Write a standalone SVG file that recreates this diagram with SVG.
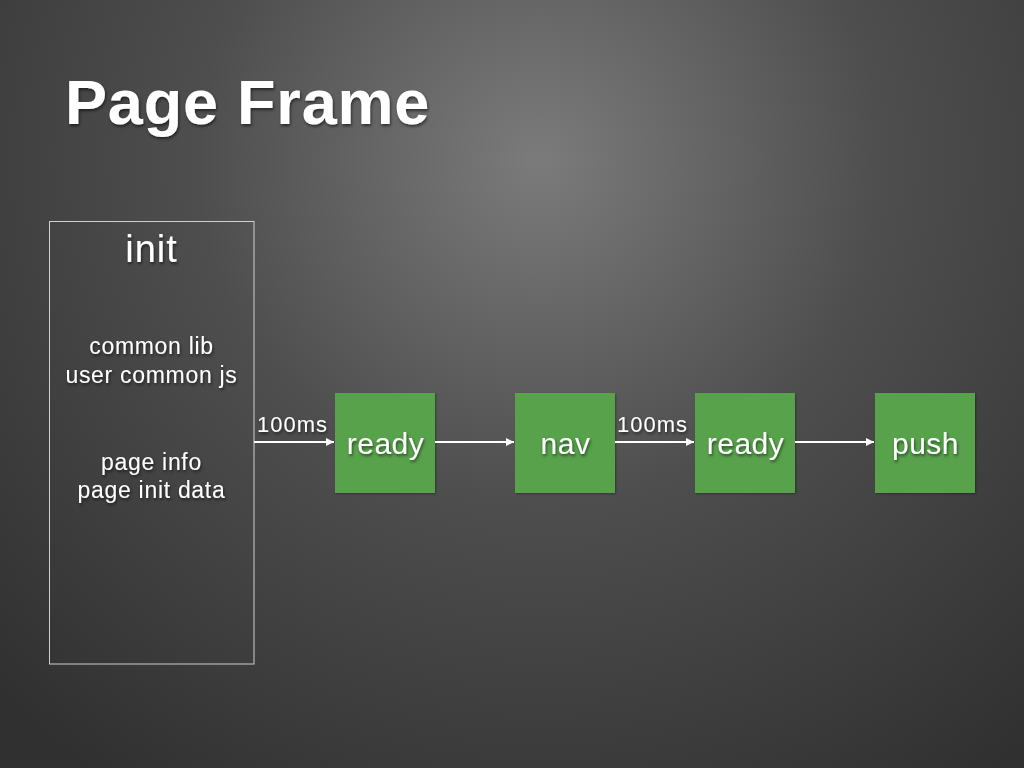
<svg xmlns="http://www.w3.org/2000/svg" width="1024" height="768" viewBox="0 0 1024 768">
  <defs>
    <radialGradient id="bg" cx="540" cy="160" r="760" gradientUnits="userSpaceOnUse">
      <stop offset="0" stop-color="#7b7b7b"/>
      <stop offset="0.45" stop-color="#4e4e4e"/>
      <stop offset="1" stop-color="#303030"/>
    </radialGradient>
    <filter id="shadow" x="-10%" y="-10%" width="120%" height="130%">
      <feDropShadow dx="1" dy="2" stdDeviation="1.5" flood-color="#000" flood-opacity="0.55"/>
    </filter>
    <filter id="boxShadow" x="-10%" y="-10%" width="125%" height="125%">
      <feDropShadow dx="1" dy="1" stdDeviation="1.2" flood-color="#000" flood-opacity="0.35"/>
    </filter>
    <marker id="arrow" viewBox="0 0 10 10" refX="10" refY="5" markerWidth="8" markerHeight="8" markerUnits="userSpaceOnUse" orient="auto">
      <path d="M0,0 L10,5 L0,10 z" fill="#ffffff"/>
    </marker>
  </defs>
  <style>
    text { font-family: "Liberation Sans", Arial, sans-serif; fill: #ffffff; }
    .title { font-size: 63px; font-weight: bold; letter-spacing: 0.8px; }
    .big { font-size: 38px; letter-spacing: 1px; text-anchor: middle; }
    .small { font-size: 23px; letter-spacing: 0.7px; text-anchor: middle; }
    .label { font-size: 22px; letter-spacing: 1px; }
    .node-label { font-size: 30px; letter-spacing: 0.5px; text-anchor: middle; }
    .node rect { fill: #58a24c; }
    .conn line { stroke: #ffffff; stroke-width: 2; marker-end: url(#arrow); }
  </style>

  <rect width="1024" height="768" fill="url(#bg)"/>

  <text class="title" x="65" y="124" filter="url(#shadow)">Page Frame</text>

  <g id="init">
    <rect x="49.5" y="221.5" width="204.5" height="442.5" fill="none" stroke="#cfcfcf" stroke-width="1"/>
    <g filter="url(#shadow)">
      <text class="big" x="151.5" y="262">init</text>
      <text class="small" x="151.5" y="354">common lib</text>
      <text class="small" x="151.5" y="383">user common js</text>
      <text class="small" x="151.5" y="470">page info</text>
      <text class="small" x="151.5" y="498">page init data</text>
    </g>
  </g>

  <g id="ready1" class="node">
    <rect x="335" y="393" width="100" height="100" filter="url(#boxShadow)"/>
    <text class="node-label" x="385.5" y="454" filter="url(#shadow)">ready</text>
  </g>
  <g id="nav" class="node">
    <rect x="515" y="393" width="100" height="100" filter="url(#boxShadow)"/>
    <text class="node-label" x="565.5" y="454" filter="url(#shadow)">nav</text>
  </g>
  <g id="ready2" class="node">
    <rect x="695" y="393" width="100" height="100" filter="url(#boxShadow)"/>
    <text class="node-label" x="745.5" y="454" filter="url(#shadow)">ready</text>
  </g>
  <g id="push" class="node">
    <rect x="875" y="393" width="100" height="100" filter="url(#boxShadow)"/>
    <text class="node-label" x="925.5" y="454" filter="url(#shadow)">push</text>
  </g>

  <g id="connectors" class="conn">
    <line x1="254" y1="442" x2="334" y2="442"/>
    <line x1="435" y1="442" x2="514" y2="442"/>
    <line x1="615" y1="442" x2="694" y2="442"/>
    <line x1="795" y1="442" x2="874" y2="442"/>
    <g filter="url(#shadow)">
      <text class="label" x="257" y="432">100ms</text>
      <text class="label" x="617" y="432">100ms</text>
    </g>
  </g>
</svg>
